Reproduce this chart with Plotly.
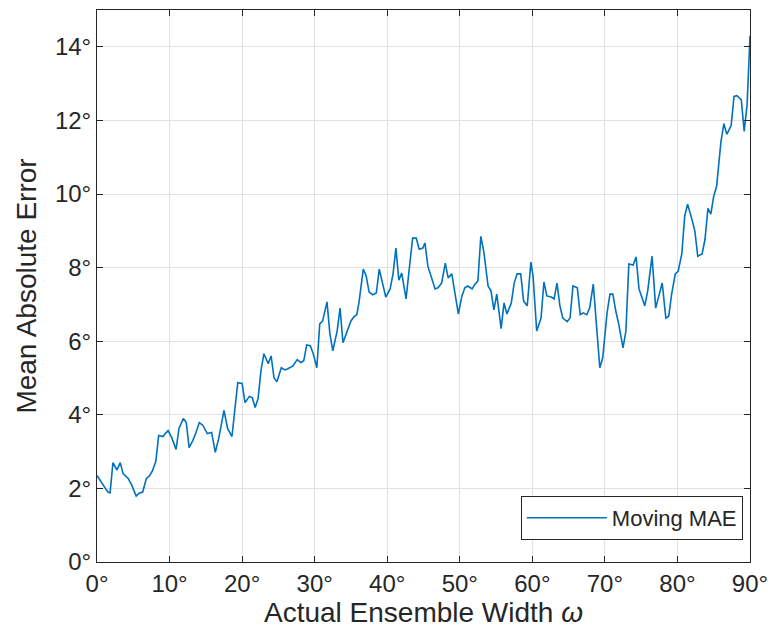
import plotly.graph_objects as go

# Ensemble width (degrees) and the moving mean absolute error (degrees)
width_deg = [
    0.0, 1.1, 1.5, 1.8, 2.2, 2.75, 3.2, 3.6, 4.3, 4.8, 5.4, 5.8, 6.3, 6.8, 7.2, 7.6,
    8.1, 8.5, 9.1, 9.4, 9.8, 10.3, 10.9, 11.3, 11.9, 12.3, 12.7, 13.2, 13.6, 14.1,
    14.6, 15.2, 15.8, 16.3, 16.8, 17.5, 18.0, 18.6, 19.0, 19.4, 20.0, 20.4, 21.0,
    21.4, 21.8, 22.2, 22.6, 23.0, 23.6, 24.0, 24.4, 24.8, 25.4, 25.9, 26.3, 27.0,
    27.6, 28.1, 28.5, 28.9, 29.4, 29.8, 30.3, 30.7, 31.1, 31.7, 32.1, 32.5, 33.1,
    33.5, 33.9, 34.5, 35.0, 35.4, 35.8, 36.1, 36.7, 37.1, 37.5, 38.0, 38.5, 38.9,
    39.4, 39.8, 40.4, 40.8, 41.2, 41.6, 42.0, 42.6, 43.0, 43.5, 44.0, 44.4, 44.9,
    45.2, 45.6, 46.2, 46.6, 47.0, 47.5, 48.0, 48.4, 48.9, 49.3, 49.8, 50.3, 50.7,
    51.1, 51.7, 52.1, 52.5, 52.9, 53.3, 53.9, 54.3, 54.7, 55.1, 55.7, 56.1, 56.5,
    57.1, 57.5, 57.9, 58.4, 58.8, 59.3, 59.8, 60.1, 60.6, 61.2, 61.6, 62.0, 62.6,
    63.0, 63.4, 63.8, 64.2, 64.8, 65.2, 65.6, 66.2, 66.6, 67.0, 67.5, 67.9, 68.4,
    68.9, 69.3, 69.7, 70.3, 70.7, 71.1, 71.5, 71.9, 72.5, 72.9, 73.3, 73.9, 74.3,
    74.7, 75.5, 75.9, 76.5, 77.0, 77.5, 77.9, 78.4, 78.8, 79.2, 79.7, 80.1, 80.6,
    81.0, 81.4, 82.0, 82.4, 82.8, 83.4, 83.8, 84.2, 84.6, 85.0, 85.4, 86.0, 86.4,
    86.8, 87.4, 87.8, 88.2, 88.8, 89.2, 89.6, 90.0,
]
mae_deg = [
    2.35, 2.03, 1.9, 1.88, 2.7, 2.5, 2.7, 2.4, 2.27, 2.08, 1.79, 1.87, 1.9, 2.27, 2.33, 2.46,
    2.73, 3.44, 3.41, 3.49, 3.57, 3.38, 3.06, 3.63, 3.9, 3.79, 3.11, 3.3, 3.49, 3.79,
    3.71, 3.49, 3.52, 2.98, 3.38, 4.12, 3.63, 3.41, 4.2, 4.87, 4.85, 4.33, 4.5,
    4.47, 4.2, 4.44, 5.2, 5.66, 5.39, 5.6, 5.0, 4.9, 5.28, 5.22, 5.25, 5.33,
    5.5, 5.42, 5.47, 5.9, 5.88, 5.66, 5.28, 6.47, 6.55, 7.07, 6.2, 5.74, 6.28,
    6.9, 5.96, 6.28, 6.55, 6.66, 6.72, 7.04, 7.96, 7.77, 7.34, 7.26, 7.31, 7.96,
    7.58, 7.2, 7.42, 7.83, 8.53, 7.66, 7.85, 7.15, 7.9, 8.8, 8.8, 8.5, 8.53,
    8.67, 8.04, 7.69, 7.42, 7.45, 7.58, 8.12, 7.72, 7.83, 7.37, 6.74, 7.23, 7.45,
    7.5, 7.42, 7.55, 7.64, 8.85, 8.45, 7.5, 7.37, 6.85, 7.28, 6.34, 7.04, 6.74,
    7.04, 7.58, 7.83, 7.83, 7.09, 6.96, 8.15, 7.77, 6.28, 6.63, 7.61, 7.23, 7.2,
    7.15, 7.58, 6.96, 6.63, 6.53, 6.63, 7.5, 7.45, 6.72, 6.77, 6.72, 6.9, 7.55,
    6.2, 5.28, 5.55, 6.77, 7.28, 7.28, 6.82, 6.47, 5.82, 6.28, 8.1, 8.07, 8.29,
    7.42, 6.96, 7.37, 8.31, 6.9, 7.28, 7.58, 6.63, 6.68, 7.28, 7.83, 7.9, 8.37,
    9.4, 9.72, 9.31, 8.99, 8.31, 8.37, 8.77, 9.61, 9.45, 9.94, 10.21, 11.43, 11.91,
    11.62, 11.86, 12.65, 12.67, 12.56, 11.7, 12.43, 14.3,
]

x_tick_vals = [0, 10, 20, 30, 40, 50, 60, 70, 80, 90]
x_tick_text = ["0°", "10°", "20°", "30°", "40°", "50°", "60°", "70°", "80°", "90°"]
y_tick_vals = [0, 2, 4, 6, 8, 10, 12, 14]
y_tick_text = ["0°", "2°", "4°", "6°", "8°", "10°", "12°", "14°"]

FONT = "Liberation Sans, Arial, Helvetica, sans-serif"
AXIS_COLOR = "#262626"
GRID_COLOR = "#e1e1e1"

fig = go.Figure()
fig.add_trace(go.Scatter(
    x=width_deg, y=mae_deg, mode="lines", name="Moving MAE",
    line=dict(color="#0072BD", width=1.6),
))

axis_common = dict(
    showline=True, linecolor=AXIS_COLOR, linewidth=1, mirror="ticks",
    ticks="inside", ticklen=6, tickcolor=AXIS_COLOR, tickwidth=1,
    showgrid=True, gridcolor=GRID_COLOR, gridwidth=1, zeroline=False,
    tickfont=dict(family=FONT, size=24, color="#262626"),
)

fig.update_xaxes(
    range=[0, 90], tickmode="array", tickvals=x_tick_vals, ticktext=x_tick_text,
    **axis_common,
    title=dict(text="Actual Ensemble Width <i>ω</i>",
               font=dict(family=FONT, size=28, color="#262626"), standoff=6),
)
fig.update_yaxes(
    range=[0, 15], tickmode="array", tickvals=y_tick_vals, ticktext=y_tick_text,
    **axis_common,
    title=dict(text="Mean Absolute Error",
               font=dict(family=FONT, size=28, color="#262626"), standoff=10),
)

fig.update_layout(
    width=771, height=630,
    margin=dict(l=97, r=21, t=10, b=68, autoexpand=False),
    paper_bgcolor="white", plot_bgcolor="white",
    showlegend=True,
    legend=dict(
        x=0.989, y=0.04, xanchor="right", yanchor="bottom",
        bgcolor="white", bordercolor=AXIS_COLOR, borderwidth=1,
        font=dict(family=FONT, size=22, color="#262626"),
        itemwidth=80,
    ),
)

fig.write_html("out.html")
